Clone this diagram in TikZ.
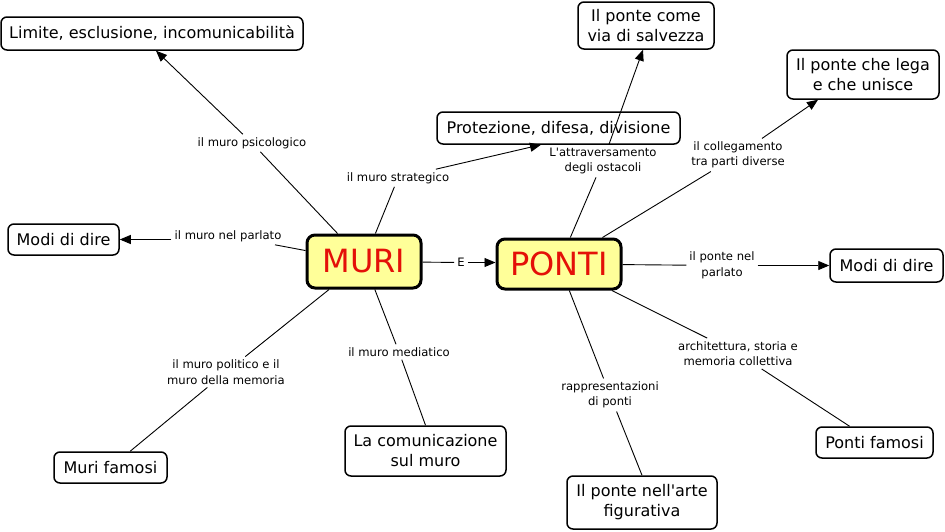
\documentclass[tikz,border=0pt]{standalone}
\usepackage{fontspec}
\setmainfont{DejaVu Sans}
\newfontfamily\dvplain{DejaVu Sans}
\usetikzlibrary{arrows.meta}
\definecolor{cyel}{RGB}{255,255,153}
\definecolor{cred}{RGB}{228,16,8}
\begin{document}
\begin{tikzpicture}[x=1pt,y=-1pt,
  concept/.style={draw, line width=1.5pt, rounded corners=6pt, fill=white, align=center, inner sep=0pt, font=\dvplain\fontsize{16}{20}\selectfont},
  mainc/.style={draw, line width=3pt, rounded corners=8pt, fill=cyel, text=cred, inner sep=0pt, font=\dvplain\fontsize{32}{36}\selectfont},
  lab/.style={align=center, inner sep=3pt, font=\dvplain\fontsize{11.6}{15.5}\selectfont},
  conn/.style={line width=0.9pt},
  arr/.style={conn, -{Triangle[length=11pt,width=9pt]}}]
\useasboundingbox (0,0) rectangle (945,531);

% concepts
\node[mainc, minimum width=114pt, minimum height=53pt] (muri) at (364,261.5) {MURI};
\node[mainc, minimum width=124pt, minimum height=50pt] (ponti) at (559,264) {PONTI};
\node[concept, minimum width=302pt, minimum height=33pt] (lim) at (152,33.5) {Limite, esclusione, incomunicabilità};
\node[concept, minimum width=111pt, minimum height=31pt] (modiL) at (63.5,239.5) {Modi di dire};
\node[concept, minimum width=113pt, minimum height=31pt] (murif) at (110.5,467.5) {Muri famosi};
\node[concept, minimum width=161pt, minimum height=50pt] (comun) at (425.5,451) {La comunicazione\\sul muro};
\node[concept, minimum width=243pt, minimum height=32pt] (prot) at (558.5,128) {Protezione, difesa, divisione};
\node[concept, minimum width=136pt, minimum height=47pt] (salv) at (646,25.5) {Il ponte come\\via di salvezza};
\node[concept, minimum width=152pt, minimum height=49pt] (lega) at (863,74.5) {Il ponte che lega\\e che unisce};
\node[concept, minimum width=113pt, minimum height=33pt] (modiR) at (886.5,265.5) {Modi di dire};
\node[concept, minimum width=117pt, minimum height=31pt] (pontif) at (874.5,442.5) {Ponti famosi};
\node[concept, minimum width=150pt, minimum height=53pt] (arte) at (642,502.5) {Il ponte nell'arte\\figurativa};

% linking phrases
\node[lab] (lpsi) at (252,143) {il muro psicologico};
\node[lab] (lstr) at (398,178) {il muro strategico};
\node[lab] (lpar) at (228,236) {il muro nel parlato};
\node[lab] (lE) at (461,262.5) {E};
\node[lab] (lpol) at (226,372) {il muro politico e il\\muro della memoria};
\node[lab] (lmed) at (399,352) {il muro mediatico};
\node[lab] (latt) at (603,161) {L'attraversamento\\degli ostacoli};
\node[lab] (lcol) at (738,155) {il collegamento\\tra parti diverse};
\node[lab] (lpp) at (722,265.5) {il ponte nel\\parlato};
\node[lab] (larc) at (738,353.5) {architettura, storia e\\memoria collettiva};
\node[lab] (lrap) at (610,395) {rappresentazioni\\di ponti};

% connectors
\draw[conn] (muri) -- (lpsi);
\draw[arr] (lpsi) -- ([xshift=4pt]lim.south);
\draw[conn] (muri) -- (lstr);
\draw[arr] (lstr) -- ([xshift=-17.5pt]prot.south);
\draw[conn] (muri) -- (lpar);
\draw[arr] (lpar.west |- modiL.east) -- (modiL.east);
\draw[conn] (muri) -- (lE);
\draw[arr] (lE) -- (lE -| ponti.west);
\draw[conn] (muri) -- (lpol);
\draw[conn] (lpol) -- (murif);
\draw[conn] (muri) -- (lmed);
\draw[conn] (lmed) -- (comun.north);
\draw[conn] (ponti) -- (latt);
\draw[arr] (latt) -- ([xshift=-3pt]salv.south);
\draw[conn] (ponti) -- (lcol);
\draw[arr] (lcol) -- ([xshift=-45pt]lega.south);
\draw[conn] (ponti) -- (lpp);
\draw[arr] (lpp) -- (modiR);
\draw[conn] (ponti) -- (larc);
\draw[conn] (larc) -- (pontif);
\draw[conn] (ponti) -- (lrap);
\draw[conn] (lrap) -- (arte.north);
\end{tikzpicture}
\end{document}
